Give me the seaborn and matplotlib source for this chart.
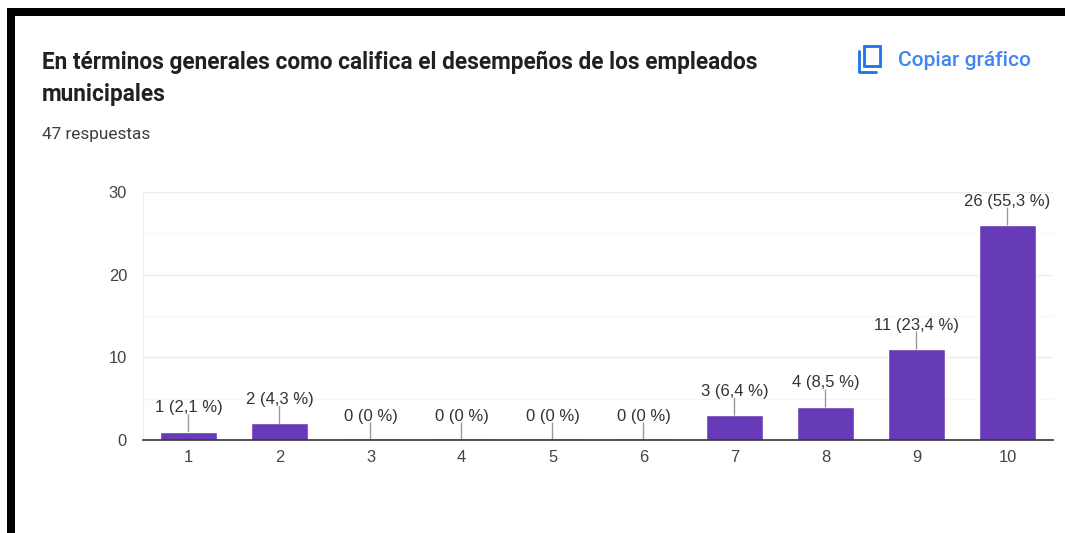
import matplotlib
matplotlib.use("Agg")
import matplotlib.pyplot as plt
from matplotlib.patches import Rectangle, FancyBboxPatch
from matplotlib.lines import Line2D
import pandas as pd
import seaborn as sns

categories = ["1", "2", "3", "4", "5", "6", "7", "8", "9", "10"]
counts = [1, 2, 0, 0, 0, 0, 3, 4, 11, 26]
labels = ["1 (2,1 %)", "2 (4,3 %)", "0 (0 %)", "0 (0 %)", "0 (0 %)", "0 (0 %)",
          "3 (6,4 %)", "4 (8,5 %)", "11 (23,4 %)", "26 (55,3 %)"]
y_ticks = [0, 10, 20, 30]
y_minor = [5, 15, 25]

W, H = 1065, 533
PT = 72 / 100  # points per pixel at dpi 100

sns.set_theme(style="white")
plt.rcParams["font.family"] = ["Liberation Sans", "DejaVu Sans"]

df = pd.DataFrame({"score": categories, "count": counts})

fig = plt.figure(figsize=(W / 100, H / 100), dpi=100, facecolor="white")
ax = fig.add_axes([143 / W, 1 - 440 / H, 910 / W, 248 / H])

sns.barplot(data=df, x="score", y="count", color="#673ab7", saturation=1,
            width=0.63, ax=ax, zorder=3)

# zero bars still show a faint line on the axis
for i, c in enumerate(counts):
    if c == 0:
        ax.plot([i - 0.31, i + 0.31], [0.14, 0.14], color="#e6e1f0", lw=1, zorder=3)

ax.set_xlim(-0.5, 9.5)
ax.set_ylim(0, 30)
ax.set_xlabel("")
ax.set_ylabel("")
ax.set_yticks(y_ticks)
ax.set_yticks(y_minor, minor=True)
ax.grid(True, axis="y", which="major", color="#ececec", lw=1, zorder=0)
ax.grid(True, axis="y", which="minor", color="#f6f6f6", lw=1, zorder=0)
ax.grid(False, axis="x")
ax.tick_params(axis="both", which="both", length=0)
ax.tick_params(axis="y", labelsize=16.5 * PT, labelcolor="#444444", pad=16 * PT)
ax.tick_params(axis="x", labelsize=16.5 * PT, labelcolor="#444444", pad=10 * PT)

for s in ["top", "right"]:
    ax.spines[s].set_visible(False)
ax.spines["left"].set_color("#eeeeee")
ax.spines["left"].set_linewidth(1)
ax.spines["bottom"].set_color("#333333")
ax.spines["bottom"].set_linewidth(1.2)
ax.spines["bottom"].set_zorder(5)

# value labels with their small stems
for i, (c, lab) in enumerate(zip(counts, labels)):
    ax.annotate("", xy=(i, c), xytext=(0, 17 * PT), textcoords="offset points",
                arrowprops=dict(arrowstyle="-", color="#999999", lw=1, shrinkA=0, shrinkB=0),
                annotation_clip=False, zorder=4)
    ax.annotate(lab, xy=(i, c), xytext=(0, 24 * PT), textcoords="offset points",
                ha="center", va="center", fontsize=16.6 * PT, color="#333333",
                annotation_clip=False, zorder=6)

# screenshot frame
for x0, y0, x1, y1 in [(7, 8, 1065, 16), (7, 8, 15, 533)]:
    fig.add_artist(Rectangle((x0 / W, 1 - y1 / H), (x1 - x0) / W, (y1 - y0) / H,
                             transform=fig.transFigure, facecolor="black", edgecolor="none"))

# header text
fig.text(42 / W, 1 - 62 / H, "En términos generales como califica el desempeños de los empleados",
         family=["Roboto", "DejaVu Sans"], fontweight="bold", fontsize=22.63 * PT, color="#202124", va="center")
fig.text(42 / W, 1 - 95 / H, "municipales",
         family=["Roboto", "DejaVu Sans"], fontweight="bold", fontsize=22.63 * PT, color="#202124", va="center")
fig.text(42 / W, 1 - 134 / H, "47 respuestas",
         family=["Roboto", "DejaVu Sans"], fontsize=17.2 * PT, color="#3c4043", va="center")
fig.text(898 / W, 1 - 60 / H, "Copiar gráfico",
         family=["Roboto", "DejaVu Sans"], fontweight="medium", fontsize=21 * PT, color="#4285f4", va="center")

# copy icon
blue = "#1a73e8"
fig.add_artist(FancyBboxPatch((864 / W, 1 - 66 / H), 16 / W, 20 / H, boxstyle="square,pad=0",
                              transform=fig.transFigure, facecolor="none", edgecolor=blue, lw=2.0))
fig.add_artist(Line2D([858.5 / W, 858.5 / W, 876 / W], [1 - 51 / H, 1 - 71.5 / H, 1 - 71.5 / H],
                      transform=fig.transFigure, color=blue, lw=2.0))

fig.savefig("out.png", dpi=100)
